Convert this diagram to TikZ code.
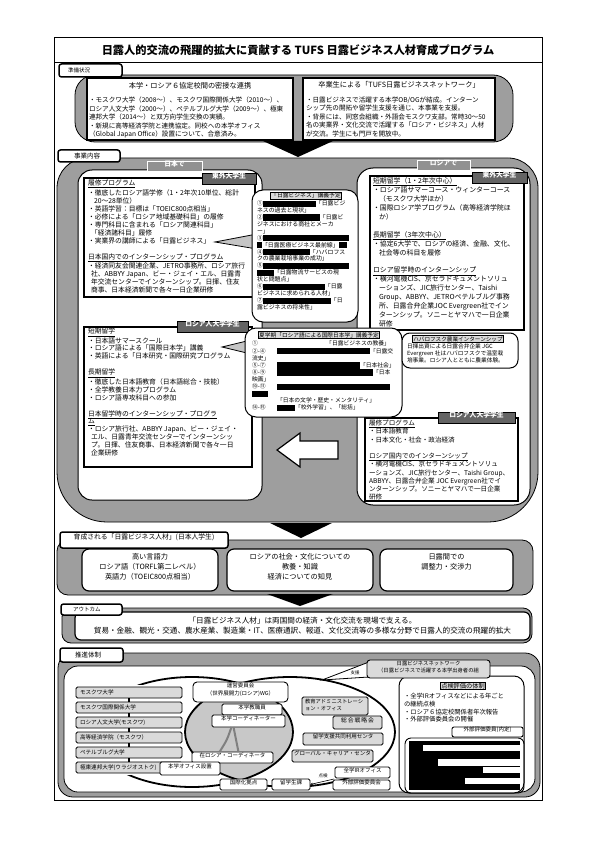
\documentclass[tikz,border=0pt]{standalone}
\usepackage{fontspec}
\setmainfont{Noto Sans CJK JP}
\usetikzlibrary{fit,calc,arrows.meta}
\definecolor{bggray}{RGB}{158,158,158}
\definecolor{tabdark}{RGB}{100,100,100}
\definecolor{tabmid}{RGB}{145,145,145}
\definecolor{lbox}{RGB}{218,218,218}
\definecolor{lens}{RGB}{200,200,200}
\newcommand\fs[2]{\fontsize{#1}{#2}\selectfont}
\newcommand\bk[1]{\rule[-1.3pt]{#1pt}{6.3pt}}
\newcommand\ubx[4]{\node[ubox, fit={(76,#2) (182,#3)}] (#1) {};\node[anchor=west, font=\fs{5.6}{6.5}] at ($(#1.west)+(4,0)$) {#4};}
\begin{document}
\begin{tikzpicture}[x=1pt,y=-1pt,
  every node/.style={inner sep=0pt,outer sep=0pt},
  area/.style={fill=bggray, draw=black, line width=0.8pt},
  wbox/.style={fill=white, draw=black, line width=1.3pt},
  tabw/.style={fill=white, draw=black, line width=1.5pt, rounded corners=2.5pt},
  dtab/.style={fill=tabdark, draw=black, line width=0.7pt, text=white, font=\fs{6.8}{8}\bfseries},
  mtab/.style={fill=tabmid, draw=white, line width=1pt, text=white, font=\fs{6.8}{8}\bfseries},
  txt/.style={anchor=north west, align=left},
  callout/.style={fill=white, draw=black, line width=1pt, rounded corners=11pt},
  ptr/.style={fill=bggray!60, draw=black, line width=0.8pt},
  ctitle/.style={draw=black, fill=lbox, line width=0.5pt, inner sep=0.7pt},
  ubox/.style={fill=lbox, draw=black, line width=0.9pt, rounded corners=1.5pt},
  wsm/.style={fill=white, draw=black, line width=0.9pt, rounded corners=1.5pt},
  gsm/.style={fill=lbox, draw=black, line width=0.9pt, rounded corners=1.5pt}]
\fill[white] (0,0) rectangle (596,842);
\useasboundingbox (0,0) rectangle (596,842);

% frame and title
\node[draw=black, line width=1pt, fit={(54,38) (542,800)}] (frame) {};
\draw[line width=0.8pt] (54,62) -- (542,62);
\node[font=\fs{11.2}{13}\bfseries] (title) at (298,50) {日露人的交流の飛躍的拡大に貢献する TUFS 日露ビジネス人材育成プログラム};

% ===== 準備状況 =====
\path[area, rounded corners=20pt] (75,75) rectangle (513,142);
\node[tabw, fit={(59,64) (122,77)}] (tab1) {};
\node[anchor=west, font=\fs{5.5}{6}] at ($(tab1.west)+(9,0)$) {準備状況};
\node[wbox, fit={(87,78) (293,140)}] (p1) {};
\node[font=\fs{7.2}{8}] (p1h) at (190,85.5) {本学・ロシア６協定校間の密接な連携};
\node[txt, font=\fs{6.6}{8.5}] (p1t) at (89,97) {・モスクワ大学（2008～）、モスクワ国際関係大学（2010～）、\\ロシア人文大学（2000～）、ペテルブルグ大学（2009～）、極東\\連邦大学（2014～）と双方向学生交換の実績。\\・新規に高等経済学院と連携協定。同校への本学オフィス\\（Global Japan Office）設置について、合意済み。};
\node[wbox, fit={(303,78) (495,140)}] (p2) {};
\node[font=\fs{7.2}{8}] (p2h) at (399,84.5) {卒業生による「TUFS日露ビジネスネットワーク」};
\node[txt, font=\fs{6.6}{8.5}] (p2t) at (306,96.5) {・日露ビジネスで活躍する本学OB/OGが結成。インターン\\シップ先の開拓や留学生支援を通じ、本事業を支援。\\・背景には、同窓会組織・外語会モスクワ支部。常時30～50\\名の実業界・文化交流で活躍する「ロシア・ビジネス」人材\\が交流。学生にも門戸を開放中。};
\fill (263,141) -- (333,141) -- (298,157) -- cycle;

% ===== 事業内容 =====
\path[area] (57,340) [rounded corners=30pt] -- (57,158) -- (538,158) -- (538,340) [rounded corners=50pt] -- (538,522) -- (57,522) -- cycle;
\node[tabw, fit={(58,150) (120,162)}] (tab2) {};
\node[anchor=west, font=\fs{6.5}{7}] at ($(tab2.west)+(16,0)$) {事業内容};
\node[fill=white, draw=black, line width=1pt, rounded corners=14pt, fit={(78,170) (262,500)}] (lp) {};
\node[fill=white, draw=black, line width=1pt, rounded corners=16pt, fit={(357,168) (530,505)}] (rp) {};
\node[mtab, fit={(147,162) (202,172)}] (tjp) {日本で};
\node[mtab, fit={(417,161) (470,171)}] (tru) {ロシアで};

\node[wbox, line width=1.5pt, fit={(84,178) (255,297)}] (lb1) {};
\node[dtab, fit={(202,173) (256,184)}] (lb1tab) {東外大学生};
\node[txt, font=\fs{6.8}{8}] (lb1t) at (88,180) {\underline{履修プログラム}\\・徹底したロシア語学修（1・2年次10単位、総計\\\hspace*{6pt}20～28単位）\\・英語学習：目標は「TOEIC800点相当」\\・必修による「ロシア地域基礎科目」の履修\\・専門科目に含まれる「ロシア関連科目」\\\hspace*{3pt}「経済諸科目」履修\\・実業界の講師による「日露ビジネス」\\\mbox{}\\\underline{日本国内でのインターンシップ・プログラム}\\・経済同友会関連企業、JETRO事務所、ロシア旅行\\\hspace*{3pt}社、ABBYY Japan、ビー・ジェイ・エル、日露青\\\hspace*{3pt}年交流センターでインターンシップ。日揮、住友\\\hspace*{3pt}商事、日本経済新聞で各々一日企業研修};

\node[wbox, line width=1.5pt, fit={(84,327) (252,467)}] (lb2) {};
\node[dtab, fit={(177,321) (248,332)}] (lb2tab) {ロシア人大学学生};
\node[txt, font=\fs{6.8}{7.95}] (lb2t) at (88,328) {\underline{短期留学}\\・日本語サマースクール\\・ロシア語による「国際日本学」講義\\・英語による「日本研究・国際研究プログラム\\\mbox{}\\\underline{長期留学}\\・徹底した日本語教育（日本語総合・技能）\\・全学教養日本力プログラム\\・ロシア語専攻科目への参加\\\mbox{}\\\underline{日本留学時のインターンシップ・プログラ}\\\underline{ム}\\・ロシア旅行社、ABBYY Japan、ビー・ジェイ・\\\hspace*{3pt}エル、日露青年交流センターでインターンシッ\\\hspace*{3pt}プ。日揮、住友商事、日本経済新聞で各々一日\\\hspace*{3pt}企業研修};

\node[wbox, line width=1.5pt, fit={(370,176) (524,330)}] (rb1) {};
\node[dtab, fit={(472,172) (527,183)}] (rb1tab) {東外大学生};
\node[txt, font=\fs{6.9}{8.95}] (rb1t) at (373,177.5) {\underline{短期留学（1・2年次中心）}\\・ロシア語サマーコース・ウィンターコース\\\hspace*{6pt}（モスクワ大学ほか）\\・国際ロシア学プログラム（高等経済学院ほ\\\hspace*{6pt}か）\\\mbox{}\\\underline{長期留学（3年次中心）}\\・協定6大学で、ロシアの経済、金融、文化、\\\hspace*{6pt}社会等の科目を履修\\\mbox{}\\\underline{ロシア留学時のインターンシップ}\\・横河電機CIS、京セラドキュメントソリュ\\\hspace*{6pt}ーションズ、JIC旅行センター、Taishi\\\hspace*{6pt}Group、ABBYY、JETROペテルブルグ事務\\\hspace*{6pt}所、日露合弁企業JOC Evergreen社でイン\\\hspace*{6pt}ターンシップ。ソニーとヤマハで一日企業\\\hspace*{6pt}研修};

\node[wbox, line width=1.5pt, fit={(365,418) (518,501)}] (rb2) {};
\node[dtab, fit={(438,412) (515,423)}] (rb2tab) {ロシア人大学学生};
\node[txt, font=\fs{6.6}{8.25}] (rb2t) at (369,420) {\underline{履修プログラム}\\・日本語教育\\・日本文化・社会・政治経済\\\mbox{}\\\underline{ロシア国内でのインターンシップ}\\・横河電機CIS、京セラドキュメントソリュ\\ーションズ、JIC旅行センター、Taishi Group、\\ABBYY、日露合弁企業 JOC Evergreen社でイ\\ンターンシップ。ソニーとヤマハで一日企業\\研修};

% callout 1
\path[ptr] (257,234) -- (215,242) -- (257,249);
\node[callout, fit={(252,190) (358,322)}] (c1) {};
\node[ctitle, font=\fs{5.8}{6.5}] (c1h) at (306,195.5) {「日露ビジネス」講義予定};
\node[txt, font=\fs{5.9}{6.93}] (c1t) at (257,200.5) {①\bk{53}「日露ビジ\\ネスの過去と現状」\\②\bk{57}「日露ビ\\ジネスにおける商社とメーカ\\ー」\\③\bk{86}\\\bk{5}「日露医療ビジネス最前線」\bk{8}\\④\bk{47}「ハバロフス\\クの農業栽培事業の成功」\\⑤\bk{86}\\\bk{17}「日露物流サービスの現\\状と問題点」\\⑥\bk{62}「日露\\ビジネスに求められる人材」\\⑦\bk{68}「日\\露ビジネスの将来性」};

% callout 2
\path[ptr] (251,340) -- (222,347) -- (251,354);
\node[callout, fit={(245,328) (402,417)}] (c2) {};
\node[ctitle, font=\fs{5.7}{6.5}] (c2h) at (319,335) {夏学期「ロシア語による国際日本学」講義予定};
\node[txt, font=\fs{5.8}{7.1}] (c2t) at (252,341) {\makebox[138pt][l]{①\hfill「日露ビジネスの教養」}\\\makebox[25pt][l]{②-④}\bk{93}「日露交\\流史」\\\makebox[25pt][l]{⑤-⑦}\bk{83}「日本社会」\\\makebox[25pt][l]{⑧-⑨}\bk{96}「日本\\映画」\\\makebox[25pt][l]{⑩-⑪}\bk{113}\\\bk{16}\\\hspace*{25pt}「日本の文学・歴史・メンタリティ」\\\makebox[25pt][l]{⑭-⑮}\bk{18}「校外学習」、「総括」};

% callout 3
\node[callout, rounded corners=8pt, fit={(402,333) (518,368)}] (c3) {};
\node[ctitle, font=\fs{5.6}{6.5}] (c3h) at (458,339) {ハバロフスク農業インターンシップ};
\node[txt, font=\fs{5.7}{7}] (c3t) at (407,343.5) {日揮出資による日露合弁企業 JGC\\Evergreen 社はハバロフスクで温室栽\\培事業。ロシア人とともに農業体験。};

% white arrow
\path[fill=white, draw=black, line width=1.2pt] (277,450) -- (300,433) -- (300,441) -- (338,441) -- (338,459) -- (300,459) -- (300,467) -- cycle;

% ===== 育成 =====
\fill (270,523) -- (332,523) -- (301,538) -- cycle;
\path[area, rounded corners=11pt] (57,540) rectangle (533,595);
\node[tabw, fit={(60,532) (228,548)}, font=\fs{6.8}{8}] (tab3) {育成される「日露ビジネス人材」(日本人学生)};
\node[wbox, rounded corners=7pt, line width=1.2pt, fit={(82,549) (218,591)}] (g1) {};
\node[align=center, font=\fs{7.2}{10}] at ($(g1.center)+(0,-3)$) {高い言語力\\ロシア語（TORFL第二レベル）\\英語力（TOEIC800点相当）};
\node[wbox, rounded corners=7pt, line width=1.2pt, fit={(227,549) (373,591)}] (g2) {};
\node[align=center, font=\fs{7.2}{10}] at ($(g2.center)+(0,-3)$) {ロシアの社会・文化についての\\教養・知識\\経済についての知見};
\node[wbox, rounded corners=7pt, line width=1.2pt, fit={(380,549) (513,591)}] (g3) {};
\node[align=center, font=\fs{7.2}{10}] at ($(g3.center)+(0,-8)$) {日露間での\\調整力・交渉力};
\fill (267,594) -- (333,594) -- (300,606) -- cycle;

% ===== アウトカム =====
\path[area, rounded corners=9pt] (62,608) rectangle (532,643);
\node[wbox, rounded corners=6pt, line width=1.2pt, fit={(75,612) (530,640)}] (oc) {};
\node[tabw, fit={(61,604) (122,615)}] (tab4) {};
\node[anchor=west, font=\fs{5.5}{6}] at ($(tab4.west)+(12,0)$) {アウトカム};
\node[align=center, font=\fs{7.6}{10}] (oct) at (oc.center) {「日露ビジネス人材」は両国間の経済・文化交流を現場で支える。\\貿易・金融、観光・交通、農水産業、製造業・IT、医療通訳、報道、文化交流等の多様な分野で日露人的交流の飛躍的拡大};

% ===== 推進体制 =====
\path[area, rounded corners=15pt] (58,653) rectangle (540,797);
\path[fill=white, draw=black, line width=0.8pt, rounded corners=14pt] (64,666) rectangle (535,792);
\node[tabw, fit={(60,648) (123,662)}] (tab5) {};
\node[anchor=west, font=\fs{6.5}{7}] at ($(tab5.west)+(15,0)$) {推進体制};

\begin{scope}
\clip (192,732) ellipse [x radius=101pt, y radius=55pt];
\fill[lens] (290,732) ellipse [x radius=105pt, y radius=55pt];
\end{scope}
\draw[line width=1.8pt] (192,732) ellipse [x radius=101pt, y radius=55pt];
\draw[line width=1.8pt] (290,732) ellipse [x radius=105pt, y radius=55pt];
\fill[white] (72,685) rectangle (184,775);

\ubx{u1}{687}{698}{モスクワ大学}
\ubx{u2}{702}{713}{モスクワ国際関係大学}
\ubx{u3}{717}{728}{ロシア人文大学(モスクワ)}
\ubx{u4}{732}{743}{高等経済学院（モスクワ）}
\ubx{u5}{747}{758}{ペテルブルグ大学}
\ubx{u6}{762}{773}{極東連邦大学(ウラジオストク)}
\foreach \a/\b in {u1/u2,u2/u3,u3/u4,u4/u5,u5/u6} \draw[line width=1.6pt] (\a.south) -- (\b.north);

\node[wsm, rounded corners=4pt, fit={(193,682) (288,702)}, align=center, font=\fs{5.5}{7.5}] (unei) {運営委員会\\（世界展開力(ロシア)WG）};
\node[wsm, fit={(222,704) (282,715)}, font=\fs{5.5}{6}] (kyo) {本学教職員};
\node[wsm, fit={(212,715) (285,727)}, font=\fs{5.5}{6}] (cord) {本学コーディネーター};
\node[wsm, fit={(192,752) (273,763)}, font=\fs{5.5}{6}] (zaiR) {在ロシア・コーディネータ};
\draw[line width=2pt, draw=gray] ($(cord.south)+(-17,0)$) .. controls (227,740) .. ($(zaiR.north)+(-13,0)$);
\draw[line width=2pt, draw=gray] ($(cord.south)+(-15,0)$) .. controls (236,740) .. ($(zaiR.north)+(6,0)$);
\node[wsm, fit={(160,762) (220,775)}, font=\fs{5.5}{6}] (office) {本学オフィス設置};
\node[wsm, fit={(220,779) (267,790)}, font=\fs{5.5}{6}] (kyoten) {国際化拠点};
\node[wsm, fit={(272,779) (310,790)}, font=\fs{5.5}{6}] (ryu) {留学生課};
\node[gsm, fit={(302,697) (368,715)}] (edu) {};
\node[txt, font=\fs{5.3}{6.8}] (edut) at (305,699.5) {教育アドミニストレーシ\\ョン・オフィス};
\node[gsm, fit={(333,716) (382,729)}, font=\fs{5.8}{6}] (senryaku) {総\,合\,戦\,略\,会};
\node[gsm, fit={(303,733) (383,745)}, font=\fs{5.5}{6}] (shien) {留学支援共同利用センタ};
\node[gsm, fit={(292,750) (373,762)}, font=\fs{5.5}{6}] (career) {グローバル・キャリア・センタ};
\node[wsm, fit={(335,767) (390,778)}, font=\fs{5.5}{6}] (ir) {全学IRオフィス};
\node[wsm, fit={(333,780) (390,790)}, font=\fs{5.5}{6}] (gaibu) {外部評価委員会};
\draw[-{Stealth[length=3pt]}, line width=0.6pt] ($(ir.south west)!0.5!(gaibu.north west)$) -- (ryu.east);
\node[font=\fs{4.5}{5}] (tenken) at (323,775.5) {点検};

% evaluation panel
\node[fill=white, draw=black, line width=1pt, rounded corners=10pt, fit={(399,676) (524,793)}] (eval) {};
\node[ctitle, font=\fs{6.2}{7}] (evalh) at (463,686) {点検評価の体制};
\node[txt, font=\fs{6.3}{7.7}] (evalt) at (404,693.5) {・全学IRオフィスなどによる年ごと\\の継続点検\\・ロシア６協定校関係者年次報告\\・外部評価委員会の開催};
\node[wsm, rounded corners=2pt, fit={(452,727) (523,737)}, font=\fs{5.5}{6}] (gaibuin) {外部評価委員(内定)};
\draw[line width=0.9pt, rounded corners=6pt] (405,738) rectangle (524,793);
\fill[black] (409,741) rectangle (520,790);
\fill[white] (423,745) rectangle (520,751);
\fill[white] (438,759) rectangle (520,766);
\fill[white] (483,767) rectangle (520,773);
\fill[white] (465,778) rectangle (520,784);

% network
\coordinate (etop) at (322,680);
\path[fill=white, draw=black, line width=0.8pt] (369,662) -- (etop) -- (369,677);
\node[gsm, rounded corners=3pt, fit={(367,660) (490,678)}, align=center, font=\fs{5.3}{7}] (net) {日露ビジネスネットワーク\\（日露ビジネスで活躍する本学出身者の組};
\node[font=\fs{4.5}{5}] (shienl) at (355,673) {支援};
\end{tikzpicture}
\end{document}
